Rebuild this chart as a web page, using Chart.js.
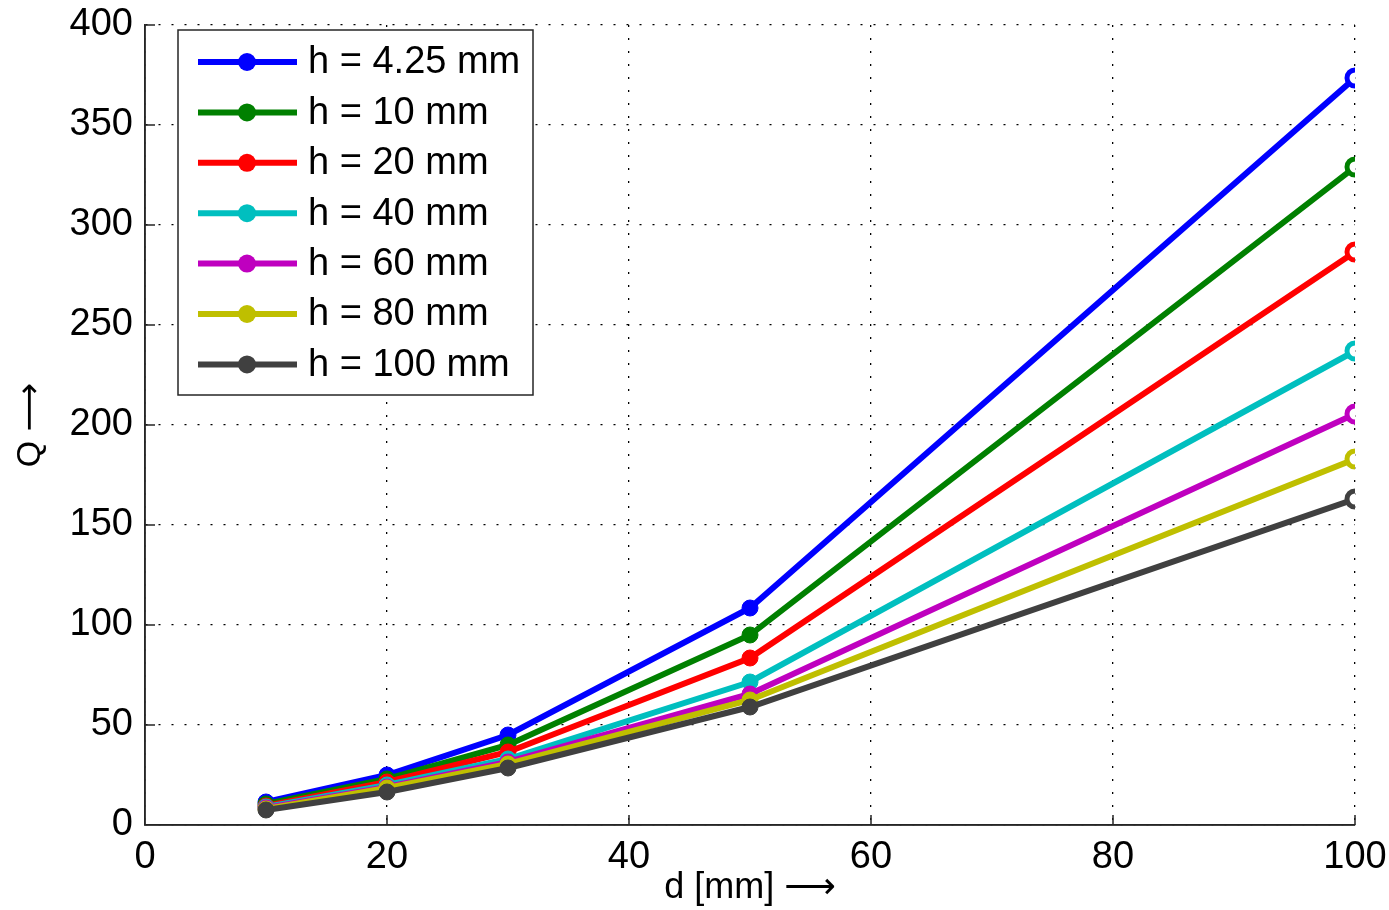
<!DOCTYPE html>
<html>
<head>
<meta charset="utf-8">
<script src="https://cdn.jsdelivr.net/npm/chart.js@4"></script>
<style>
  html, body { margin:0; padding:0; background:#fff; }
  #wrap { width:1389px; height:910px; }
</style>
</head>
<body>
<div id="wrap"><canvas id="c" width="1389" height="910"></canvas></div>
<script>
// ---------- data ----------
const dValues = [10, 20, 30, 50, 100];
const labels = ['h = 4.25 mm', 'h = 10 mm', 'h = 20 mm', 'h = 40 mm', 'h = 60 mm', 'h = 80 mm', 'h = 100 mm'];
const colors = ['#0000ff', '#008000', '#ff0000', '#00bfbf', '#bf00bf', '#bfbf00', '#404040'];
const q_h4 = [11.5, 25, 45, 108.5, 373.5];
const q_h10 = [10.5, 23, 40, 95, 329];
const q_h20 = [9.5, 21.5, 36.5, 83.5, 286.5];
const q_h40 = [9, 20, 33, 71.5, 237];
const q_h60 = [8.5, 19, 31.5, 65.5, 205.5];
const q_h80 = [8, 18.5, 30.5, 62.5, 183];
const q_h100 = [7.5, 16.5, 28.5, 59, 163];
const series = [q_h4, q_h10, q_h20, q_h40, q_h60, q_h80, q_h100];
const xTicks = [0, 20, 40, 60, 80, 100];
const yTicks = [0, 50, 100, 150, 200, 250, 300, 350, 400];

const FONT = '"Liberation Sans", "DejaVu Sans", Arial, sans-serif';

const datasets = series.map((vals, i) => ({
  label: labels[i],
  data: vals.map((v, k) => ({ x: dValues[k], y: v })),
  borderColor: colors[i],
  backgroundColor: colors[i],
  borderWidth: 6,
  pointRadius: 8,
  pointBorderWidth: vals.map((v, k) => k === vals.length - 1 ? 5 : 1),
  pointBackgroundColor: vals.map((v, k) => k === vals.length - 1 ? '#fff' : colors[i]),
  pointBorderColor: colors[i],
  tension: 0,
  order: 6 - i
}));

// legend drawn inside the plot like the matlab one
const boxLegend = {
  id: 'boxLegend',
  afterDatasetsDraw(chart) {
    const ctx = chart.ctx;
    const ca = chart.chartArea;
    const x0 = ca.left + 33, y0 = ca.top + 5, w = 355, h = 365;
    ctx.save();
    ctx.fillStyle = '#fff';
    ctx.fillRect(x0, y0, w, h);
    ctx.strokeStyle = '#262626';
    ctx.lineWidth = 1.5;
    ctx.strokeRect(x0, y0, w, h);
    ctx.font = '38px ' + FONT;
    ctx.textBaseline = 'middle';
    chart.data.datasets.forEach((ds, i) => {
      const y = y0 + 32 + i * 50.4;
      ctx.strokeStyle = ds.borderColor;
      ctx.lineWidth = 6;
      ctx.beginPath();
      ctx.moveTo(x0 + 20, y);
      ctx.lineTo(x0 + 119, y);
      ctx.stroke();
      ctx.fillStyle = ds.borderColor;
      ctx.beginPath();
      ctx.arc(x0 + 69, y, 9, 0, Math.PI * 2);
      ctx.fill();
      ctx.fillStyle = '#000';
      ctx.fillText(ds.label, x0 + 130, y + 1);
    });
    ctx.restore();
  }
};

// small inward ticks + solid left/bottom axes, matlab style
const matlabAxes = {
  id: 'matlabAxes',
  afterDraw(chart) {
    const ctx = chart.ctx;
    const ca = chart.chartArea;
    const xs = chart.scales.x, ys = chart.scales.y;
    ctx.save();
    ctx.strokeStyle = '#262626';
    ctx.lineWidth = 1.5;
    ctx.beginPath();
    xTicks.forEach(t => {
      const px = xs.getPixelForValue(t);
      ctx.moveTo(px, ca.bottom); ctx.lineTo(px, ca.bottom - 10);
    });
    yTicks.forEach(t => {
      const py = ys.getPixelForValue(t);
      ctx.moveTo(ca.left, py); ctx.lineTo(ca.left + 10, py);
    });
    ctx.moveTo(ca.left, ca.top); ctx.lineTo(ca.left, ca.bottom); ctx.lineTo(ca.right, ca.bottom);
    ctx.stroke();
    ctx.restore();
  }
};

new Chart(document.getElementById('c'), {
  type: 'line',
  data: { datasets },
  options: {
    responsive: false,
    animation: false,
    layout: { padding: { top: 25, right: 34, left: 0, bottom: 0 } },
    plugins: { legend: { display: false }, tooltip: { enabled: false } },
    scales: {
      x: {
        type: 'linear',
        min: 0, max: 100,
        afterBuildTicks: s => { s.ticks = xTicks.map(v => ({ value: v })); },
        afterFit: s => { s.height = 85; s.paddingLeft = 0; s.paddingRight = 0; },
        ticks: { color: '#000', font: { family: FONT, size: 38 }, padding: 10, maxRotation: 0 },
        grid: { color: '#000', lineWidth: 1.3, tickLength: 0, drawTicks: false },
        border: { display: true, color: '#262626', width: 1.5, dash: [2, 11] },
        title: { display: true, text: 'd [mm] \u27F6', color: '#000', font: { family: FONT, size: 36 }, padding: { top: 0, bottom: 0 } }
      },
      y: {
        type: 'linear',
        min: 0, max: 400,
        afterBuildTicks: s => { s.ticks = yTicks.map(v => ({ value: v })); },
        afterFit: s => { s.width = 145; s.paddingTop = 0; s.paddingBottom = 0; },
        ticks: { color: '#000', font: { family: FONT, size: 38 }, padding: 12 },
        grid: { color: '#000', lineWidth: 1.3, tickLength: 0, drawTicks: false },
        border: { display: true, color: '#262626', width: 1.5, dash: [2, 11] },
        title: { display: true, text: 'Q \u27F6', color: '#000', font: { family: FONT, size: 34 }, padding: { top: 10, bottom: 0 } }
      }
    }
  },
  plugins: [boxLegend, matlabAxes]
});
</script>
</body>
</html>
